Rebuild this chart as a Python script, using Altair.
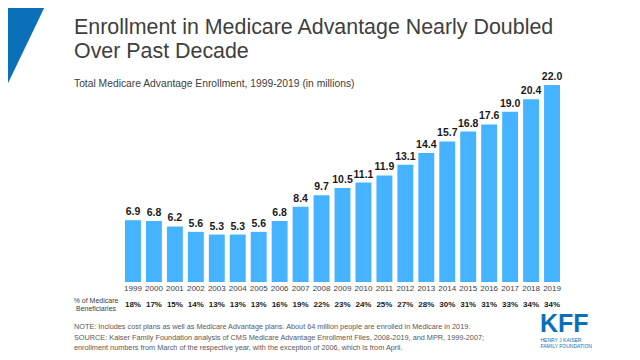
import altair as alt
import pandas as pd

# ---- data ----
years = ["1999", "2000", "2001", "2002", "2003", "2004", "2005", "2006", "2007", "2008",
         "2009", "2010", "2011", "2012", "2013", "2014", "2015", "2016", "2017", "2018", "2019"]
enrollment = [6.9, 6.8, 6.2, 5.6, 5.3, 5.3, 5.6, 6.8, 8.4, 9.7,
              10.5, 11.1, 11.9, 13.1, 14.4, 15.7, 16.8, 17.6, 19.0, 20.4, 22.0]
pct_beneficiaries = [18, 17, 15, 14, 13, 13, 13, 16, 19, 22,
                     23, 24, 25, 27, 28, 30, 31, 31, 33, 34, 34]

title_lines = ["Enrollment in Medicare Advantage Nearly Doubled", "Over Past Decade"]
subtitle = "Total Medicare Advantage  Enrollment,  1999-2019 (in millions)"
row_label = ["% of Medicare", "Beneficiaries"]
note_lines = [
    "NOTE: Includes cost plans as well as Medicare Advantage  plans. About 64 million people are enrolled  in Medicare  in 2019.",
    "SOURCE: Kaiser Family Foundation analysis of CMS Medicare Advantage  Enrollment Files, 2008-2019, and MPR, 1999-2007;",
    "enrollment numbers from March of the respective year, with the exception of 2006, which is from April.",
]
logo_big = "KFF"
logo_small = ["HENRY J KAISER", "FAMILY FOUNDATION"]

FONT = "Liberation Sans"
BAR = "#45b3ff"
KFF_BLUE = "#0b70ba"

df = pd.DataFrame({
    "year": years,
    "value": enrollment,
    "label": [f"{v:.1f}" for v in enrollment],
    "pct": [f"{p}%" for p in pct_beneficiaries],
})

x_enc = alt.X("year:O", sort=years, axis=None,
              scale=alt.Scale(paddingInner=0.24, paddingOuter=0.12))
y_enc = alt.Y("value:Q", axis=None,
              scale=alt.Scale(domain=[0, 22], nice=False, zero=True))

base = alt.Chart(df)
bars = base.mark_bar(color=BAR).encode(x=x_enc, y=y_enc)
values = base.mark_text(font=FONT, fontWeight="bold", fontSize=10.5, baseline="bottom",
                        dy=-3, color="#1a1a1a").encode(x=x_enc, y=y_enc, text="label:N")
year_labels = base.mark_text(font=FONT, fontSize=8, baseline="middle",
                             color="#404040").encode(x=x_enc, y=alt.value(204), text="year:N")
pct_labels = base.mark_text(font=FONT, fontSize=8, fontWeight="bold", baseline="middle",
                            color="#1a1a1a").encode(x=x_enc, y=alt.value(220), text="pct:N")

one = alt.Data(values=[{}])


def txt(s, x, y, size, color="#404040", weight="normal", align="left", baseline="alphabetic"):
    return alt.Chart(one).mark_text(
        text=s, font=FONT, fontSize=size, fontWeight=weight, color=color,
        align=align, baseline=baseline,
    ).encode(x=alt.value(x), y=alt.value(y))


triangle = alt.Chart(one).mark_point(
    shape="M-0.48,-1 L0.48,-1 L-0.48,1 Z", size=10000, filled=True,
    fill=KFF_BLUE, opacity=1, strokeWidth=0,
).encode(x=alt.value(-98.5), y=alt.value(-35))

layers = [triangle, bars, values, year_labels, pct_labels,
          txt(title_lines[0], -48.5, -51, 21.4, color="#404040"),
          txt(title_lines[1], -48.5, -27, 21.4, color="#404040"),
          txt(subtitle, -48.5, 2, 10.3, color="#404040"),
          txt(row_label[0], -26.5, 216, 7, color="#404040", align="center", baseline="middle"),
          txt(row_label[1], -26.5, 224, 7, color="#404040", align="center", baseline="middle"),
          txt(logo_big, 417.5, 247, 25, color=KFF_BLUE, weight="bold"),
          txt(logo_small[0], 418, 257, 5, color=KFF_BLUE),
          txt(logo_small[1], 418, 263, 5, color=KFF_BLUE)]
for i, line in enumerate(note_lines):
    layers.append(txt(line, -48.5, 244 + 10.5 * i, 7.3, color="#595959"))

chart = alt.layer(*layers).properties(
    width=440, height=197,
    autosize=alt.AutoSizeParams(type="none"),
    padding={"left": 114.5, "top": 77, "right": 69.5, "bottom": 70},
).configure_view(stroke=None)

chart.save("out.html", embed_options={"renderer": "svg", "actions": False})
